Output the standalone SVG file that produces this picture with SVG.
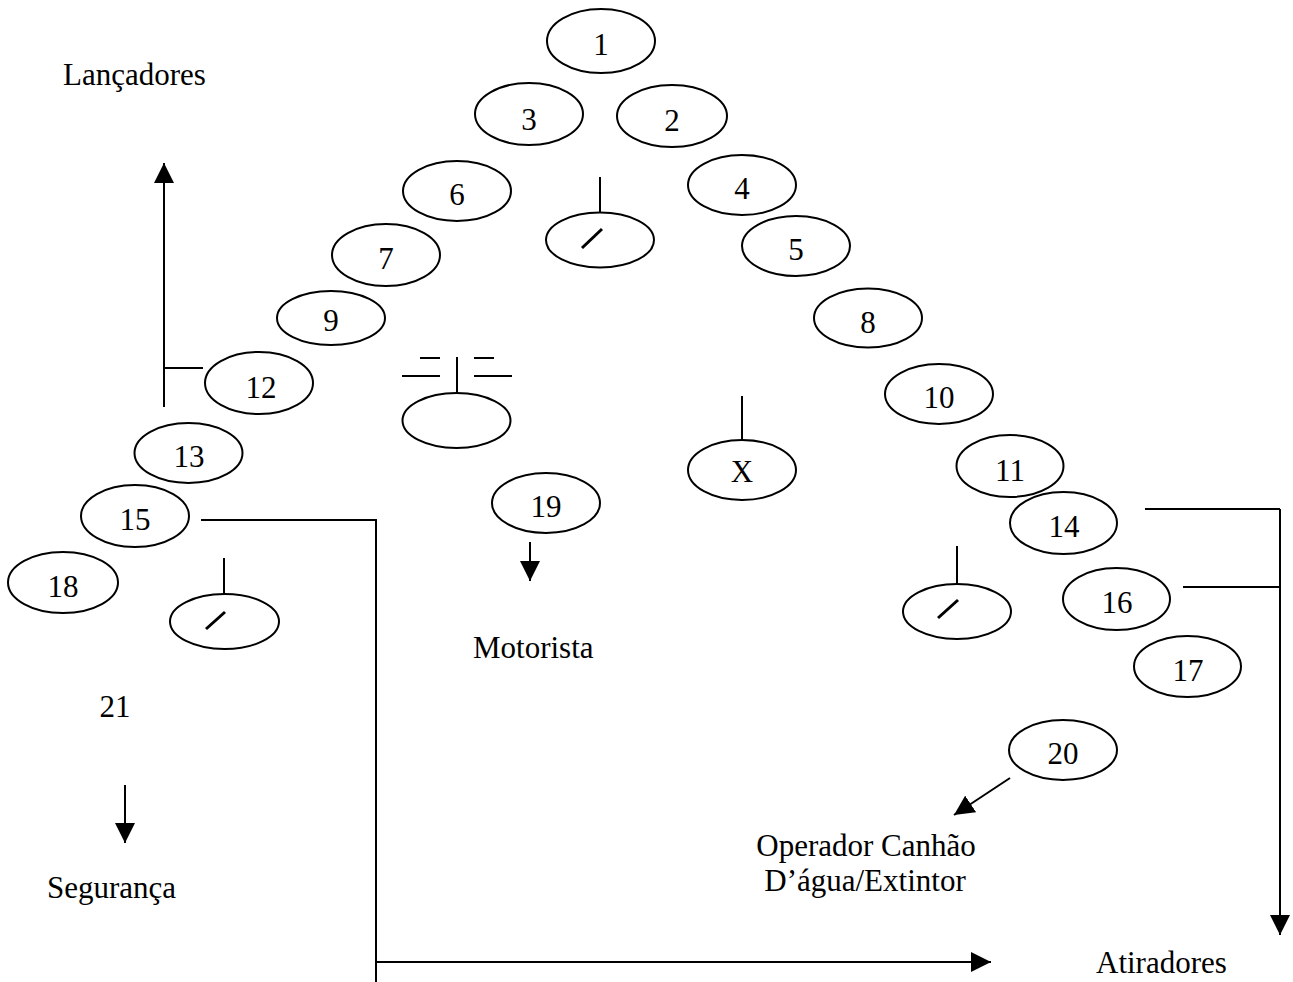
<svg xmlns="http://www.w3.org/2000/svg" width="1293" height="982" viewBox="0 0 1293 982">
<defs>
<marker id="ah" viewBox="0 0 20 20" refX="20" refY="10" markerWidth="20" markerHeight="20" markerUnits="userSpaceOnUse" orient="auto">
<path d="M0,0 L20,10 L0,20 z" fill="#000"/>
</marker>
</defs>
<style>
.n{fill:#fff;stroke:#000;stroke-width:2}
.t{font-family:"Liberation Serif","Times New Roman",serif;font-size:31px;fill:#000}
.c{text-anchor:middle}
.l{stroke:#000;stroke-width:2;fill:none}
.s{stroke:#000;stroke-width:3;fill:none}
.a{stroke:#000;stroke-width:2;fill:none;marker-end:url(#ah)}
</style>
<rect width="1293" height="982" fill="#fff"/>
<g id="connectors">
<path class="a" d="M164,407 V163"/>
<path class="l" d="M164,368 H203"/>
<path class="l" d="M201,520 H376 V982"/>
<path class="a" d="M376,962 H991"/>
<path class="l" d="M1145,509 H1280"/>
<path class="l" d="M1183,587 H1280"/>
<path class="a" d="M1280,509 V935"/>
<path class="a" d="M530,542 V581"/>
<path class="a" d="M125,785 V843"/>
<path class="a" d="M1010,778 L954,815"/>
</g>
<g id="n1"><ellipse class="n" cx="601" cy="41" rx="54" ry="32"/><text class="t c" x="601" y="55">1</text></g>
<g id="n3"><ellipse class="n" cx="529" cy="114" rx="54" ry="31"/><text class="t c" x="529" y="130">3</text></g>
<g id="n2"><ellipse class="n" cx="672" cy="116" rx="55" ry="31"/><text class="t c" x="672" y="131">2</text></g>
<g id="n6"><ellipse class="n" cx="457" cy="191" rx="54" ry="30"/><text class="t c" x="457" y="205">6</text></g>
<g id="n4"><ellipse class="n" cx="742" cy="185" rx="54" ry="30"/><text class="t c" x="742" y="199">4</text></g>
<g id="sym1"><path class="l" d="M600,177 V213"/><ellipse class="n" cx="600" cy="240" rx="54" ry="27.5"/><path class="s" d="M582,248 L602,229"/></g>
<g id="n7"><ellipse class="n" cx="386" cy="255" rx="54" ry="31"/><text class="t c" x="386" y="269">7</text></g>
<g id="n5"><ellipse class="n" cx="796" cy="246" rx="54" ry="30"/><text class="t c" x="796" y="260">5</text></g>
<g id="n9"><ellipse class="n" cx="331" cy="318" rx="54" ry="27"/><text class="t c" x="331" y="331">9</text></g>
<g id="n8"><ellipse class="n" cx="868" cy="318" rx="54" ry="29.5"/><text class="t c" x="868" y="333">8</text></g>
<g id="n12"><ellipse class="n" cx="259" cy="383" rx="54" ry="31"/><text class="t c" x="261" y="398">12</text></g>
<g id="sym2"><path class="l" d="M420,358 H440 M402,376 H440 M474,358 H494 M474,376 H512 M457,357 V393"/><ellipse class="n" cx="456.5" cy="420.5" rx="54" ry="27.5"/></g>
<g id="n10"><ellipse class="n" cx="939" cy="394" rx="54" ry="30"/><text class="t c" x="939" y="408">10</text></g>
<g id="nX"><path class="l" d="M742,396 V440"/><ellipse class="n" cx="742" cy="470" rx="54" ry="30"/><text class="t c" x="742" y="482">X</text></g>
<g id="n13"><ellipse class="n" cx="188.5" cy="453" rx="54" ry="30"/><text class="t c" x="189" y="467">13</text></g>
<g id="n11"><ellipse class="n" cx="1010" cy="466" rx="53.5" ry="31"/><text class="t c" x="1010" y="481">11</text></g>
<g id="n19"><ellipse class="n" cx="546" cy="503" rx="54" ry="30"/><text class="t c" x="546" y="517">19</text></g>
<g id="n15"><ellipse class="n" cx="135" cy="516" rx="54" ry="31"/><text class="t c" x="135" y="530">15</text></g>
<g id="n14"><ellipse class="n" cx="1063.5" cy="523" rx="53.5" ry="31"/><text class="t c" x="1064" y="537">14</text></g>
<g id="n18"><ellipse class="n" cx="63" cy="582.5" rx="55" ry="30.5"/><text class="t c" x="63" y="597">18</text></g>
<g id="sym3"><path class="l" d="M224,558 V594"/><ellipse class="n" cx="224.5" cy="621.5" rx="54.5" ry="27.5"/><path class="s" d="M206,629 L225,612"/></g>
<g id="n16"><ellipse class="n" cx="1116.5" cy="599" rx="53.5" ry="31"/><text class="t c" x="1117" y="613">16</text></g>
<g id="sym4"><path class="l" d="M957,546 V584"/><ellipse class="n" cx="957" cy="611.5" rx="54" ry="27.5"/><path class="s" d="M938,618 L958,600"/></g>
<g id="n17"><ellipse class="n" cx="1187.5" cy="666.5" rx="53.5" ry="30.5"/><text class="t c" x="1188" y="681">17</text></g>
<g id="n20"><ellipse class="n" cx="1063" cy="750" rx="54" ry="30"/><text class="t c" x="1063" y="764">20</text></g>
<g id="labels">
<text class="t" x="63" y="85">Lançadores</text>
<text class="t" x="473" y="658">Motorista</text>
<text class="t c" x="115" y="717">21</text>
<text class="t" x="47" y="898">Segurança</text>
<text class="t c" x="866" y="856">Operador Canhão</text>
<text class="t c" x="865" y="891">D’água/Extintor</text>
<text class="t" x="1096" y="973">Atiradores</text>
</g>
</svg>
